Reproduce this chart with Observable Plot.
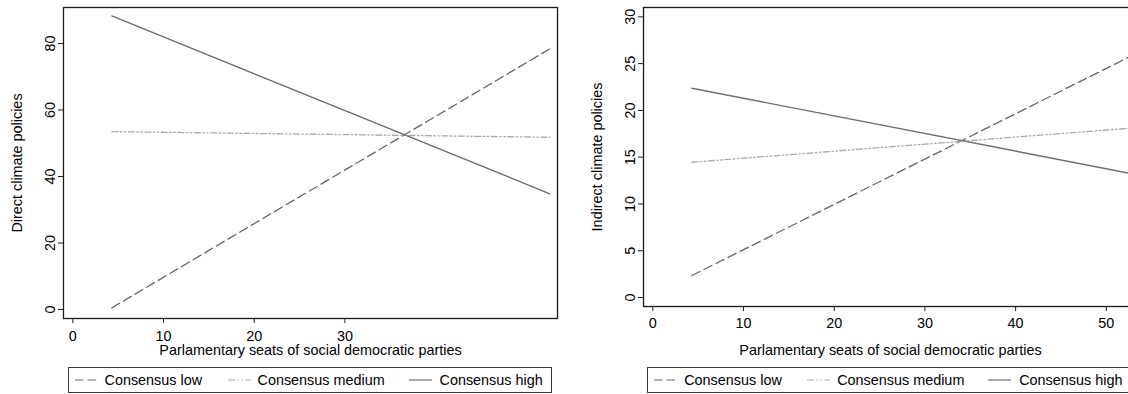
<!DOCTYPE html>
<html>
<head>
<meta charset="utf-8">
<script src="https://cdn.jsdelivr.net/npm/d3@7"></script>
<script src="https://cdn.jsdelivr.net/npm/@observablehq/plot@0.6"></script>
<style>
  html, body { margin: 0; padding: 0; background: #fff; }
  #wrap { position: relative; width: 1128px; height: 394px; overflow: hidden; background: #fff;
          font-family: "Liberation Sans", Arial, Helvetica, sans-serif; }
  .panel { position: absolute; top: 0; width: 575px; height: 394px; }
  .panel svg { position: absolute; left: 0; top: 0; }
  .legend { position: absolute; left: 67.5px; top: 366.5px; width: 484px; height: 26px;
            border: 1px solid #3a3a3a; box-sizing: border-box; font-size: 14.4px; color: #000; }
  .legend .item { position: absolute; top: 0; height: 24px; line-height: 24px; white-space: nowrap; }
  .legend svg { position: absolute; top: 0; }
</style>
</head>
<body>
<div id="wrap"></div>
<script>
// ---- data ----
const seatsRange = [4.3, 52.6];               // x endpoints of the fitted lines
const directLow = [0.5, 78.4];
const directMedium = [53.5, 51.8];
const directHigh = [88.3, 34.8];
const indirectLow = [2.35, 25.75];
const indirectMedium = [14.46, 18.1];
const indirectHigh = [22.37, 13.28];
const seriesNames = ["Consensus low", "Consensus medium", "Consensus high"];
const leftXTicks = [0, 10, 20, 30];
const rightXTicks = [0, 10, 20, 30, 40, 50];
const leftYTicks = [0, 20, 40, 60, 80];
const rightYTicks = [0, 5, 10, 15, 20, 25, 30];
const xTitle = "Parlamentary seats of social democratic parties";
const leftYTitle = "Direct climate policies";
const rightYTitle = "Indirect climate policies";

const styles = {
  "Consensus low": {stroke: "#666", strokeDasharray: "9,4.5", strokeWidth: 1.3},
  "Consensus medium": {stroke: "#a8a8a8", strokeDasharray: "6,2.5,1.5,2.5,1.5,2.5", strokeWidth: 1.3},
  "Consensus high": {stroke: "#6e6e6e", strokeDasharray: null, strokeWidth: 1.4}
};

function toRows(vals) {
  return seatsRange.map((x, i) => ({x, y: vals[i]}));
}

const FONT = '"Liberation Sans", Arial, Helvetica, sans-serif';
const FS = 14.4;

function panel({series, yDomain, xTicks, yTicks, yTitle, marginBottom, xTickPadding, titleDy}) {
  const lineMarks = seriesNames.map((name, i) => {
    const s = styles[name];
    const opts = {x: "x", y: "y", stroke: s.stroke, strokeWidth: s.strokeWidth};
    if (s.strokeDasharray) opts.strokeDasharray = s.strokeDasharray;
    return Plot.line(toRows(series[i]), opts);
  });
  return Plot.plot({
    width: 575,
    height: 360,
    marginLeft: 63,
    marginRight: 18,
    marginTop: 7,
    marginBottom,
    style: {fontFamily: FONT, fontSize: FS + "px", color: "#000", background: "transparent"},
    x: {domain: [-1.03, 53.44], label: null},
    y: {domain: yDomain, label: null},
    marks: [
      ...lineMarks,
      Plot.frame({stroke: "#1a1a1a", strokeWidth: 1.3}),
      Plot.axisX({ticks: xTicks, tickSize: 5, tickPadding: xTickPadding, label: null, fontSize: FS, stroke: "#1a1a1a"}),
      Plot.axisY({ticks: yTicks, tickSize: 5, tickPadding: 4, tickRotate: -90, label: null, fontSize: FS, stroke: "#1a1a1a"}),
      Plot.text([xTitle], {frameAnchor: "bottom", dy: titleDy, lineAnchor: "middle", fontSize: FS, fill: "#000"}),
      Plot.text([yTitle], {frameAnchor: "left", dx: -46, rotate: -90, textAnchor: "middle", lineAnchor: "middle", fontSize: FS, fill: "#000"})
    ]
  });
}

function legend() {
  const lg = document.createElement("div");
  lg.className = "legend";
  const items = [
    {name: "Consensus low", sx: 6, tx: 36},
    {name: "Consensus medium", sx: 159, tx: 189},
    {name: "Consensus high", sx: 340, tx: 371}
  ];
  for (const it of items) {
    const s = styles[it.name];
    const svg = d3.create("svg").attr("width", 24).attr("height", 24)
      .style("left", it.sx + "px");
    svg.append("line").attr("x1", 0).attr("x2", 23).attr("y1", 12).attr("y2", 12)
      .attr("stroke", s.stroke).attr("stroke-width", 1.2)
      .attr("stroke-dasharray", it.name === "Consensus low" ? "8.5,4" : (it.name === "Consensus medium" ? "7,2.5,1.5,2.5,1.5,2.5" : null));
    lg.appendChild(svg.node());
    const t = document.createElement("div");
    t.className = "item";
    t.style.left = it.tx + "px";
    t.textContent = it.name;
    lg.appendChild(t);
  }
  return lg;
}

const wrap = document.getElementById("wrap");

const p1 = document.createElement("div");
p1.className = "panel";
p1.style.left = "0px";
p1.appendChild(panel({
  series: [directLow, directMedium, directHigh],
  yDomain: [-2.71, 90.83], xTicks: leftXTicks, yTicks: leftYTicks, yTitle: leftYTitle,
  marginBottom: 42, xTickPadding: 7, titleDy: 32
}));
p1.appendChild(legend());
wrap.appendChild(p1);

const p2 = document.createElement("div");
p2.className = "panel";
p2.style.left = "579.7px";
p2.appendChild(panel({
  series: [indirectLow, indirectMedium, indirectHigh],
  yDomain: [-0.96, 31.0], xTicks: rightXTicks, yTicks: rightYTicks, yTitle: rightYTitle,
  marginBottom: 54, xTickPadding: 6, titleDy: 43.5
}));
p2.appendChild(legend());
wrap.appendChild(p2);
</script>
</body>
</html>
